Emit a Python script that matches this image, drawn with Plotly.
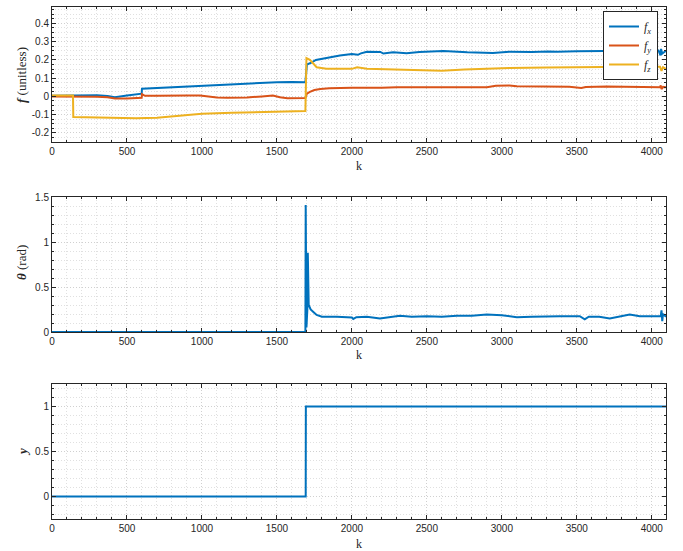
import plotly.graph_objects as go

# ---------------- data ----------------
k_fx = [0, 100, 200, 300, 370, 420, 500, 560, 598, 600, 700, 800, 900, 1000, 1100, 1200, 1300,
        1400, 1500, 1600, 1690, 1700, 1730, 1760, 1790, 1850, 1920, 2000, 2040, 2060, 2100, 2190,
        2210, 2275, 2365, 2450, 2610, 2770, 2940, 3050, 3200, 3310, 3370, 3500, 3650, 3800, 3950,
        4045, 4058, 4062, 4070, 4095]
fx = [0.003, 0.004, 0.003, 0.006, 0.002, -0.005, 0.005, 0.012, 0.015, 0.042, 0.046, 0.050, 0.055,
      0.062, 0.066, 0.070, 0.073, 0.076, 0.078, 0.079, 0.078, 0.175, 0.185, 0.200, 0.205, 0.215,
      0.224, 0.233, 0.228, 0.236, 0.245, 0.244, 0.235, 0.242, 0.237, 0.243, 0.249, 0.242, 0.238,
      0.245, 0.243, 0.246, 0.245, 0.247, 0.248, 0.250, 0.250, 0.252, 0.225, 0.260, 0.235, 0.250]

k_fy = [0, 100, 200, 300, 370, 420, 500, 560, 598, 600, 620, 700, 800, 900, 987, 1100, 1170, 1300,
        1400, 1473, 1520, 1570, 1690, 1700, 1720, 1750, 1790, 1850, 2000, 2100, 2200, 2300, 2500,
        2700, 2900, 2960, 3050, 3100, 3300, 3450, 3530, 3560, 3700, 3900, 4000, 4055, 4060, 4065,
        4075, 4095]
fy = [0.0, 0.0, 0.0, -0.002, -0.005, -0.012, -0.012, -0.010, -0.008, 0.012, 0.003, 0.004, 0.006,
      0.005, 0.005, -0.006, -0.008, -0.006, 0.0, 0.005, -0.005, -0.010, -0.009, 0.015, 0.025, 0.035,
      0.041, 0.045, 0.047, 0.046, 0.047, 0.050, 0.049, 0.049, 0.050, 0.058, 0.060, 0.056, 0.054,
      0.053, 0.046, 0.052, 0.054, 0.053, 0.053, 0.050, 0.060, 0.040, 0.052, 0.050]

k_fz = [0, 140, 142, 300, 400, 560, 700, 900, 1000, 1200, 1400, 1600, 1690, 1697, 1720, 1765, 1830,
        2000, 2035, 2100, 2200, 2350, 2600, 2750, 2950, 3050, 3300, 3450, 3870, 4000, 4055, 4065,
        4075, 4095]
fz = [0.005, 0.005, -0.113, -0.115, -0.120, -0.120, -0.117, -0.105, -0.095, -0.090, -0.086, -0.082,
      -0.080, 0.210, 0.200, 0.160, 0.151, 0.151, 0.160, 0.151, 0.148, 0.146, 0.140, 0.147, 0.155,
      0.155, 0.158, 0.160, 0.162, 0.163, 0.163, 0.140, 0.160, 0.150]

k_theta = [0, 1690, 1692, 1697, 1703, 1706, 1712, 1725, 1745, 1765, 1800, 1900, 2000, 2009, 2030,
           2100, 2187, 2250, 2320, 2400, 2500, 2600, 2700, 2800, 2900, 3000, 3100, 3200, 3300,
           3387, 3520, 3553, 3580, 3650, 3720, 3790, 3853, 3920, 4000, 4060, 4065, 4070, 4075, 4095]
theta = [0.0, 0.0, 1.41, 0.05, 0.25, 0.88, 0.30, 0.25, 0.22, 0.19, 0.17, 0.17, 0.16, 0.145, 0.165,
         0.17, 0.15, 0.165, 0.18, 0.17, 0.175, 0.17, 0.18, 0.18, 0.195, 0.185, 0.165, 0.17, 0.175,
         0.176, 0.175, 0.14, 0.17, 0.17, 0.15, 0.17, 0.195, 0.176, 0.175, 0.175, 0.24, 0.12, 0.20,
         0.17]

k_y = [0, 1692, 1693, 4095]
y_vals = [0, 0, 1, 1]

x_ticks = [0, 500, 1000, 1500, 2000, 2500, 3000, 3500, 4000]
y1_ticks = [-0.2, -0.1, 0, 0.1, 0.2, 0.3, 0.4]
y1_text = ["-0.2", "-0.1", "0", "0.1", "0.2", "0.3", "0.4"]
y2_ticks = [0, 0.5, 1, 1.5]
y2_text = ["0", "0.5", "1", "1.5"]
y3_ticks = [0, 0.5, 1]
y3_text = ["0", "0.5", "1"]

# ---------------- style ----------------
C_BLUE = "#0072BD"
C_RED = "#D95319"
C_YEL = "#EDB120"
AX = "#262626"
W, H = 683, 551
SERIF = "Liberation Serif, DejaVu Serif, serif"
SANS = "Liberation Sans, Arial, sans-serif"
GRID_MAJ = "#d0d0d0"
GRID_MIN = "#e0e0e0"
DASH = "1px,2px"

xdom = [52 / W, 666 / W]
doms = [[1 - 142 / H, 1 - 7 / H], [1 - 332 / H, 1 - 197 / H], [1 - 519 / H, 1 - 384 / H]]

fig = go.Figure()
lw = 2
fig.add_trace(go.Scatter(x=k_fx, y=fx, mode="lines", line=dict(color=C_BLUE, width=lw),
                         name="<i>f</i><sub><i>x</i></sub>", xaxis="x", yaxis="y"))
fig.add_trace(go.Scatter(x=k_fy, y=fy, mode="lines", line=dict(color=C_RED, width=lw),
                         name="<i>f</i><sub><i>y</i></sub>", xaxis="x", yaxis="y"))
fig.add_trace(go.Scatter(x=k_fz, y=fz, mode="lines", line=dict(color=C_YEL, width=lw),
                         name="<i>f</i><sub><i>z</i></sub>", xaxis="x", yaxis="y"))
fig.add_trace(go.Scatter(x=k_theta, y=theta, mode="lines", line=dict(color=C_BLUE, width=lw),
                         showlegend=False, xaxis="x2", yaxis="y2"))
fig.add_trace(go.Scatter(x=k_y, y=y_vals, mode="lines", line=dict(color=C_BLUE, width=lw),
                         showlegend=False, xaxis="x3", yaxis="y3"))


def xax(anchor):
    return dict(domain=xdom, anchor=anchor, range=[0, 4095], tickvals=x_ticks,
                automargin=False,
                ticks="inside", ticklen=4, tickcolor=AX, showline=True, linecolor=AX,
                linewidth=1, mirror="ticks", showgrid=True, gridcolor=GRID_MAJ,
                griddash=DASH, gridwidth=1, zeroline=False,
                tickfont=dict(family=SANS, size=10, color=AX),
                minor=dict(dtick=100, showgrid=True, gridcolor=GRID_MIN, griddash=DASH,
                           ticks="inside", ticklen=2, tickcolor=AX))


def yax(anchor, dom, rng, tv, tt, mdt):
    return dict(domain=dom, anchor=anchor, range=rng, tickvals=tv, ticktext=tt,
                automargin=False,
                ticks="inside", ticklen=4, tickcolor=AX, showline=True, linecolor=AX,
                linewidth=1, mirror="ticks", showgrid=True, gridcolor=GRID_MAJ,
                griddash=DASH, gridwidth=1, zeroline=False,
                tickfont=dict(family=SANS, size=10, color=AX),
                minor=dict(dtick=mdt, showgrid=True, gridcolor=GRID_MIN, griddash=DASH,
                           ticks="inside", ticklen=2, tickcolor=AX))


fig.update_layout(
    width=W, height=H, margin=dict(l=0, r=0, t=0, b=0, autoexpand=False),
    paper_bgcolor="white", plot_bgcolor="white",
    xaxis=xax("y"), xaxis2=xax("y2"), xaxis3=xax("y3"),
    yaxis=yax("x", doms[0], [-0.25, 0.49], y1_ticks, y1_text, 0.025),
    yaxis2=yax("x2", doms[1], [0, 1.5], y2_ticks, y2_text, 0.1),
    yaxis3=yax("x3", doms[2], [-0.25, 1.25], y3_ticks, y3_text, 0.1),
    legend=dict(x=658 / W, y=1 - 11 / H, xanchor="right", yanchor="top",
                bgcolor="white", bordercolor=AX, borderwidth=1, itemwidth=30,
                font=dict(family=SERIF, size=12, color=AX), tracegroupgap=0),
    showlegend=True,
)

ann = []
for cy in [166, 355, 544]:
    ann.append(dict(text="k", x=359 / W, y=1 - cy / H, xref="paper", yref="paper",
                    xanchor="center", yanchor="middle",
                    showarrow=False, font=dict(family=SERIF, size=12, color=AX)))
ylabels = [("<b><i>f</i></b> (unitless)", 75), ("<b><i>θ</i></b> (rad)", 263),
           ("<b><i>y</i></b>", 452)]
for txt, cy in ylabels:
    ann.append(dict(text=txt, x=22 / W, y=1 - cy / H, xref="paper", yref="paper",
                    xanchor="center", yanchor="middle",
                    showarrow=False, textangle=-90,
                    font=dict(family=SERIF, size=13, color=AX)))
fig.update_layout(annotations=ann)

fig.write_html("out.html", config={"displayModeBar": False},
               post_script="document.body.style.margin='0';document.body.style.padding='0';")
